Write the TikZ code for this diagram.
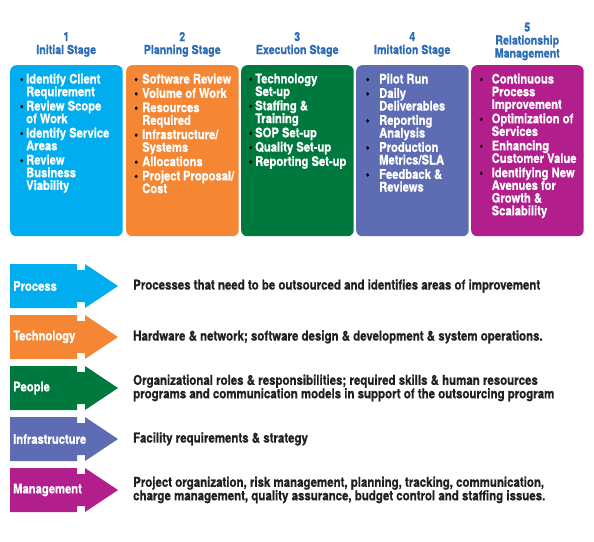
\documentclass[tikz,border=0pt]{standalone}
\usepackage{fontspec}
\setmainfont{TeX Gyre Heros}[FakeStretch=0.85, BoldFeatures={FakeBold=0.8}]
\usepackage{xcolor}
\definecolor{StageCyan}{HTML}{00AEEF}
\definecolor{StageOrange}{HTML}{F58634}
\definecolor{StageGreen}{HTML}{00793F}
\definecolor{StagePeri}{HTML}{5E6DB3}
\definecolor{StageMagenta}{HTML}{B21E8C}
\definecolor{HeadBlue}{HTML}{2B6CB5}
\definecolor{BodyText}{HTML}{231F20}
\usepackage{tikz}
\usetikzlibrary{positioning,calc}

% one bullet line of a stage box
\newdimen\bulind
\newcommand{\sitem}[1]{\par\hangindent=\bulind\hangafter=1\noindent\hbox to\bulind{{\color{black}\textbullet}\hfil}#1}

\begin{document}
\begin{tikzpicture}[x=1pt, y=-1pt,
    stagebox/.style={rounded corners=6pt, inner sep=0pt, minimum width=112.5pt, minimum height=171pt, anchor=north west},
    stagehead/.style={font=\bfseries\fontsize{12.5}{13}\selectfont, text=HeadBlue, align=center, anchor=south, inner sep=0pt},
    stagelist/.style={font=\bfseries\fontsize{13.2}{12.7}\selectfont, text=white, anchor=north west, inner sep=0pt},
    rowlabel/.style={font=\bfseries\fontsize{13.2}{13}\selectfont, text=white, anchor=west, inner sep=0pt},
    rowtext/.style={font=\bfseries\fontsize{13.5}{13.5}\selectfont, text=BodyText, align=left, anchor=west, inner sep=0pt}]
    \useasboundingbox (0,0) rectangle (594,541);

    % Stage boxes with heads and bullet lists
    \foreach \bx/\bcol/\boff/\bind/\hy/\hd/\items [count=\i] in {
      10/StageCyan/9.5/6.5/57/{1\\Initial Stage}/{\sitem{Identify Client\\Requirement}\sitem{Review Scope\\of Work}\sitem{Identify Service\\Areas}\sitem{Review\\Business\\Viability}},
      126/StageOrange/8/8/57/{2\\Planning Stage}/{\sitem{Software Review}\sitem{Volume of Work}\sitem{Resources\\Required}\sitem{Infrastructure/\\Systems}\sitem{Allocations}\sitem{Project Proposal/\\Cost}},
      241/StageGreen/7.5/6.5/57/{3\\Execution Stage}/{\sitem{Technology\\Set-up}\sitem{Staffing \&\\Training}\sitem{SOP Set-up}\sitem{Quality Set-up}\sitem{Reporting Set-up}},
      356/StagePeri/9.5/13.5/57/{4\\Imitation Stage}/{\sitem{Pilot Run}\sitem{Daily\\Deliverables}\sitem{Reporting\\Analysis}\sitem{Production\\Metrics/SLA}\sitem{Feedback \&\\Reviews}},
      471/StageMagenta/8/12.5/60.5/{5\\Relationship\\Management}/{\sitem{Continuous\\Process\\Improvement}\sitem{Optimization of\\Services}\sitem{Enhancing\\Customer Value}\sitem{Identifying New\\Avenues for\\Growth \&\\Scalability}}} {
      \pgfmathsetmacro{\tw}{108-\boff}
      \node[stagebox, fill=\bcol] (stage\i) at (\bx,65) {};
      \node[stagehead] (head\i) at (\bx+56.25,\hy) {\hd};
      \node[stagelist] (list\i) at (\bx+\boff,73.5)
        {\parbox[t]{\tw pt}{\rightskip=0pt plus 1fil\parskip=1.6pt\lineskiplimit=-20pt\bulind=\bind pt\relax\items}};
    }

    % Arrows with labels and descriptions
    \foreach \cy/\rcol/\lab/\desc [count=\j] in {
      286/StageCyan/Process/{Processes that need to be outsourced and identifies areas of improvement},
      337/StageOrange/Technology/{Hardware \& network; software design \& development \& system operations.},
      388/StageGreen/People/{Organizational roles \& responsibilities; required skills \& human resources\\programs and communication models in support of the outsourcing program},
      439/StagePeri/Infrastructure/{Facility requirements \& strategy},
      490/StageMagenta/Management/{Project organization, risk management, planning, tracking, communication,\\charge management, quality assurance, budget control and staffing issues.}} {
      \fill[\rcol] (10,\cy-22) -- (77,\cy-22) -- (77,\cy-16) -- (85,\cy-16) -- (85,\cy-22)
        -- (118,\cy) -- (85,\cy+22) -- (85,\cy+16) -- (77,\cy+16) -- (77,\cy+22) -- (10,\cy+22) -- cycle;
      \node[rowlabel] (lab\j) at (13,\cy) {\lab};
      \node[rowtext] (desc\j) at (133,\cy) {\desc};
    }
  \end{tikzpicture}
\end{document}
